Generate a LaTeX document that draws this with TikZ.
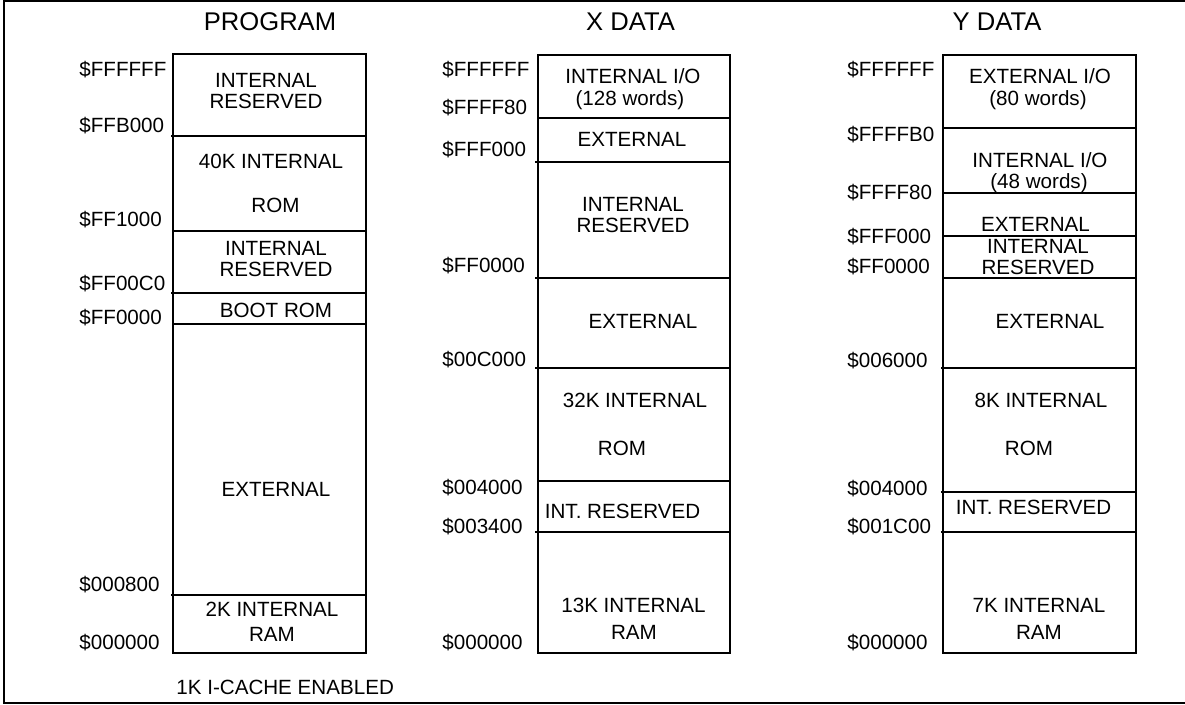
\documentclass[tikz,border=0pt]{standalone}
\usepackage{fontspec}
\setmainfont{Liberation Sans}

\tikzset{
  memcol/.style={draw, line width=0.8pt},
  addr/.style={anchor=base west, inner sep=0pt},
  region/.style={anchor=base, inner sep=0pt},
  colhead/.style={anchor=base, inner sep=0pt, font=\fontsize{12.8}{14}\selectfont}
}

\begin{document}
\begin{tikzpicture}[x=0.5pt, y=-0.5pt, font=\fontsize{10.3}{10.5}\selectfont]
        \useasboundingbox (0,0) rectangle (1185,705);
        \draw[line width=1pt] (1185,1) -- (3.5,1) -- (3.5,703.5) -- (1185,703.5);

        % program space
        \node[colhead] (ptitle) at (270,31) {PROGRAM};
        \draw[memcol] (173,54) rectangle (366,653);
        \foreach \y/\x in {136/171, 231/173, 293/171, 324/173, 595/171}
            \draw[memcol] (\x,\y) -- (366,\y);

        \begin{scope}[every node/.style={addr}]
        \node (pa1) at (79,77) {\$FFFFFF};
        \node (pa2) at (79,133) {\$FFB000};
        \node (pa3) at (79,227) {\$FF1000};
        \node (pa4) at (79,291) {\$FF00C0};
        \node (pa5) at (79,325) {\$FF0000};
        \node (pa6) at (79,592) {\$000800};
        \node (pa7) at (79,650) {\$000000};
        \end{scope}

        \begin{scope}[every node/.style={region}]
        \node (prsv1) at (266,88) {INTERNAL};
        \node (prsv1b) at (266,109) {RESERVED};
        \node (prom1) at (271,169) {40K INTERNAL};
        \node (prom1b) at (275.5,213) {ROM};
        \node (prsv2) at (276,256) {INTERNAL};
        \node (prsv2b) at (276,277) {RESERVED};
        \node (pboot) at (276,318) {BOOT ROM};
        \node (pext) at (276,497) {EXTERNAL};
        \node (pram) at (272,617) {2K INTERNAL};
        \node (pramb) at (272,642) {RAM};
        \end{scope}
        \node[addr] (pcache) at (176,694.5) {1K I-CACHE ENABLED};

        % x data space
        \node[colhead] (xtitle) at (630.5,31) {X DATA};
        \draw[memcol] (538,55) rectangle (730,653);
        \foreach \y/\x in {118/538, 162/535, 278/535, 368/535, 481/538, 532/535}
            \draw[memcol] (\x,\y) -- (730,\y);

        \begin{scope}[every node/.style={addr}]
        \node (xa1) at (442,77) {\$FFFFFF};
        \node (xa2) at (442,115) {\$FFFF80};
        \node (xa3) at (442,157) {\$FFF000};
        \node (xa4) at (442,273) {\$FF0000};
        \node (xa5) at (442,367) {\$00C000};
        \node (xa6) at (442,495) {\$004000};
        \node (xa7) at (442,534) {\$003400};
        \node (xa8) at (442,650) {\$000000};
        \end{scope}

        \begin{scope}[every node/.style={region}]
        \node (xio) at (633,84) {INTERNAL I/O};
        \node (xiob) at (630,106) {(128 words)};
        \node (xext1) at (632,147) {EXTERNAL};
        \node (xrsv) at (633,212) {INTERNAL};
        \node (xrsvb) at (633,233) {RESERVED};
        \node (xext2) at (643,329) {EXTERNAL};
        \node (xrom) at (635,408) {32K INTERNAL};
        \node (xromb) at (622,456) {ROM};
        \node (xirsv) at (622.5,519) {INT. RESERVED};
        \node (xram) at (633.5,613) {13K INTERNAL};
        \node (xramb) at (634,640) {RAM};
        \end{scope}

        % y data space
        \node[colhead] (ytitle) at (997,31) {Y DATA};
        \draw[memcol] (943,55) rectangle (1136,653);
        \foreach \y/\x in {128/943, 193/943, 236/943, 278/943, 368/941, 492/941, 532/941}
            \draw[memcol] (\x,\y) -- (1136,\y);

        \begin{scope}[every node/.style={addr}]
        \node (ya1) at (847,77) {\$FFFFFF};
        \node (ya2) at (847,142) {\$FFFFB0};
        \node (ya3) at (847,200) {\$FFFF80};
        \node (ya4) at (847,244) {\$FFF000};
        \node (ya5) at (847,274) {\$FF0000};
        \node (ya6) at (847,368) {\$006000};
        \node (ya7) at (847,496) {\$004000};
        \node (ya8) at (847,534) {\$001C00};
        \node (ya9) at (847,650) {\$000000};
        \end{scope}

        \begin{scope}[every node/.style={region}]
        \node (yxio) at (1040,84) {EXTERNAL I/O};
        \node (yxiob) at (1038,106) {(80 words)};
        \node (yio) at (1040,168) {INTERNAL I/O};
        \node (yiob) at (1039,189) {(48 words)};
        \node (yext1) at (1035.5,232) {EXTERNAL};
        \node (yrsv) at (1038,254) {INTERNAL};
        \node (yrsvb) at (1038,275) {RESERVED};
        \node (yext2) at (1050,329) {EXTERNAL};
        \node (yrom) at (1041,408) {8K INTERNAL};
        \node (yromb) at (1029,456) {ROM};
        \node (yirsv) at (1033.5,514.5) {INT. RESERVED};
        \node (yram) at (1039,613) {7K INTERNAL};
        \node (yramb) at (1039,640) {RAM};
        \end{scope}
    \end{tikzpicture}
\end{document}
